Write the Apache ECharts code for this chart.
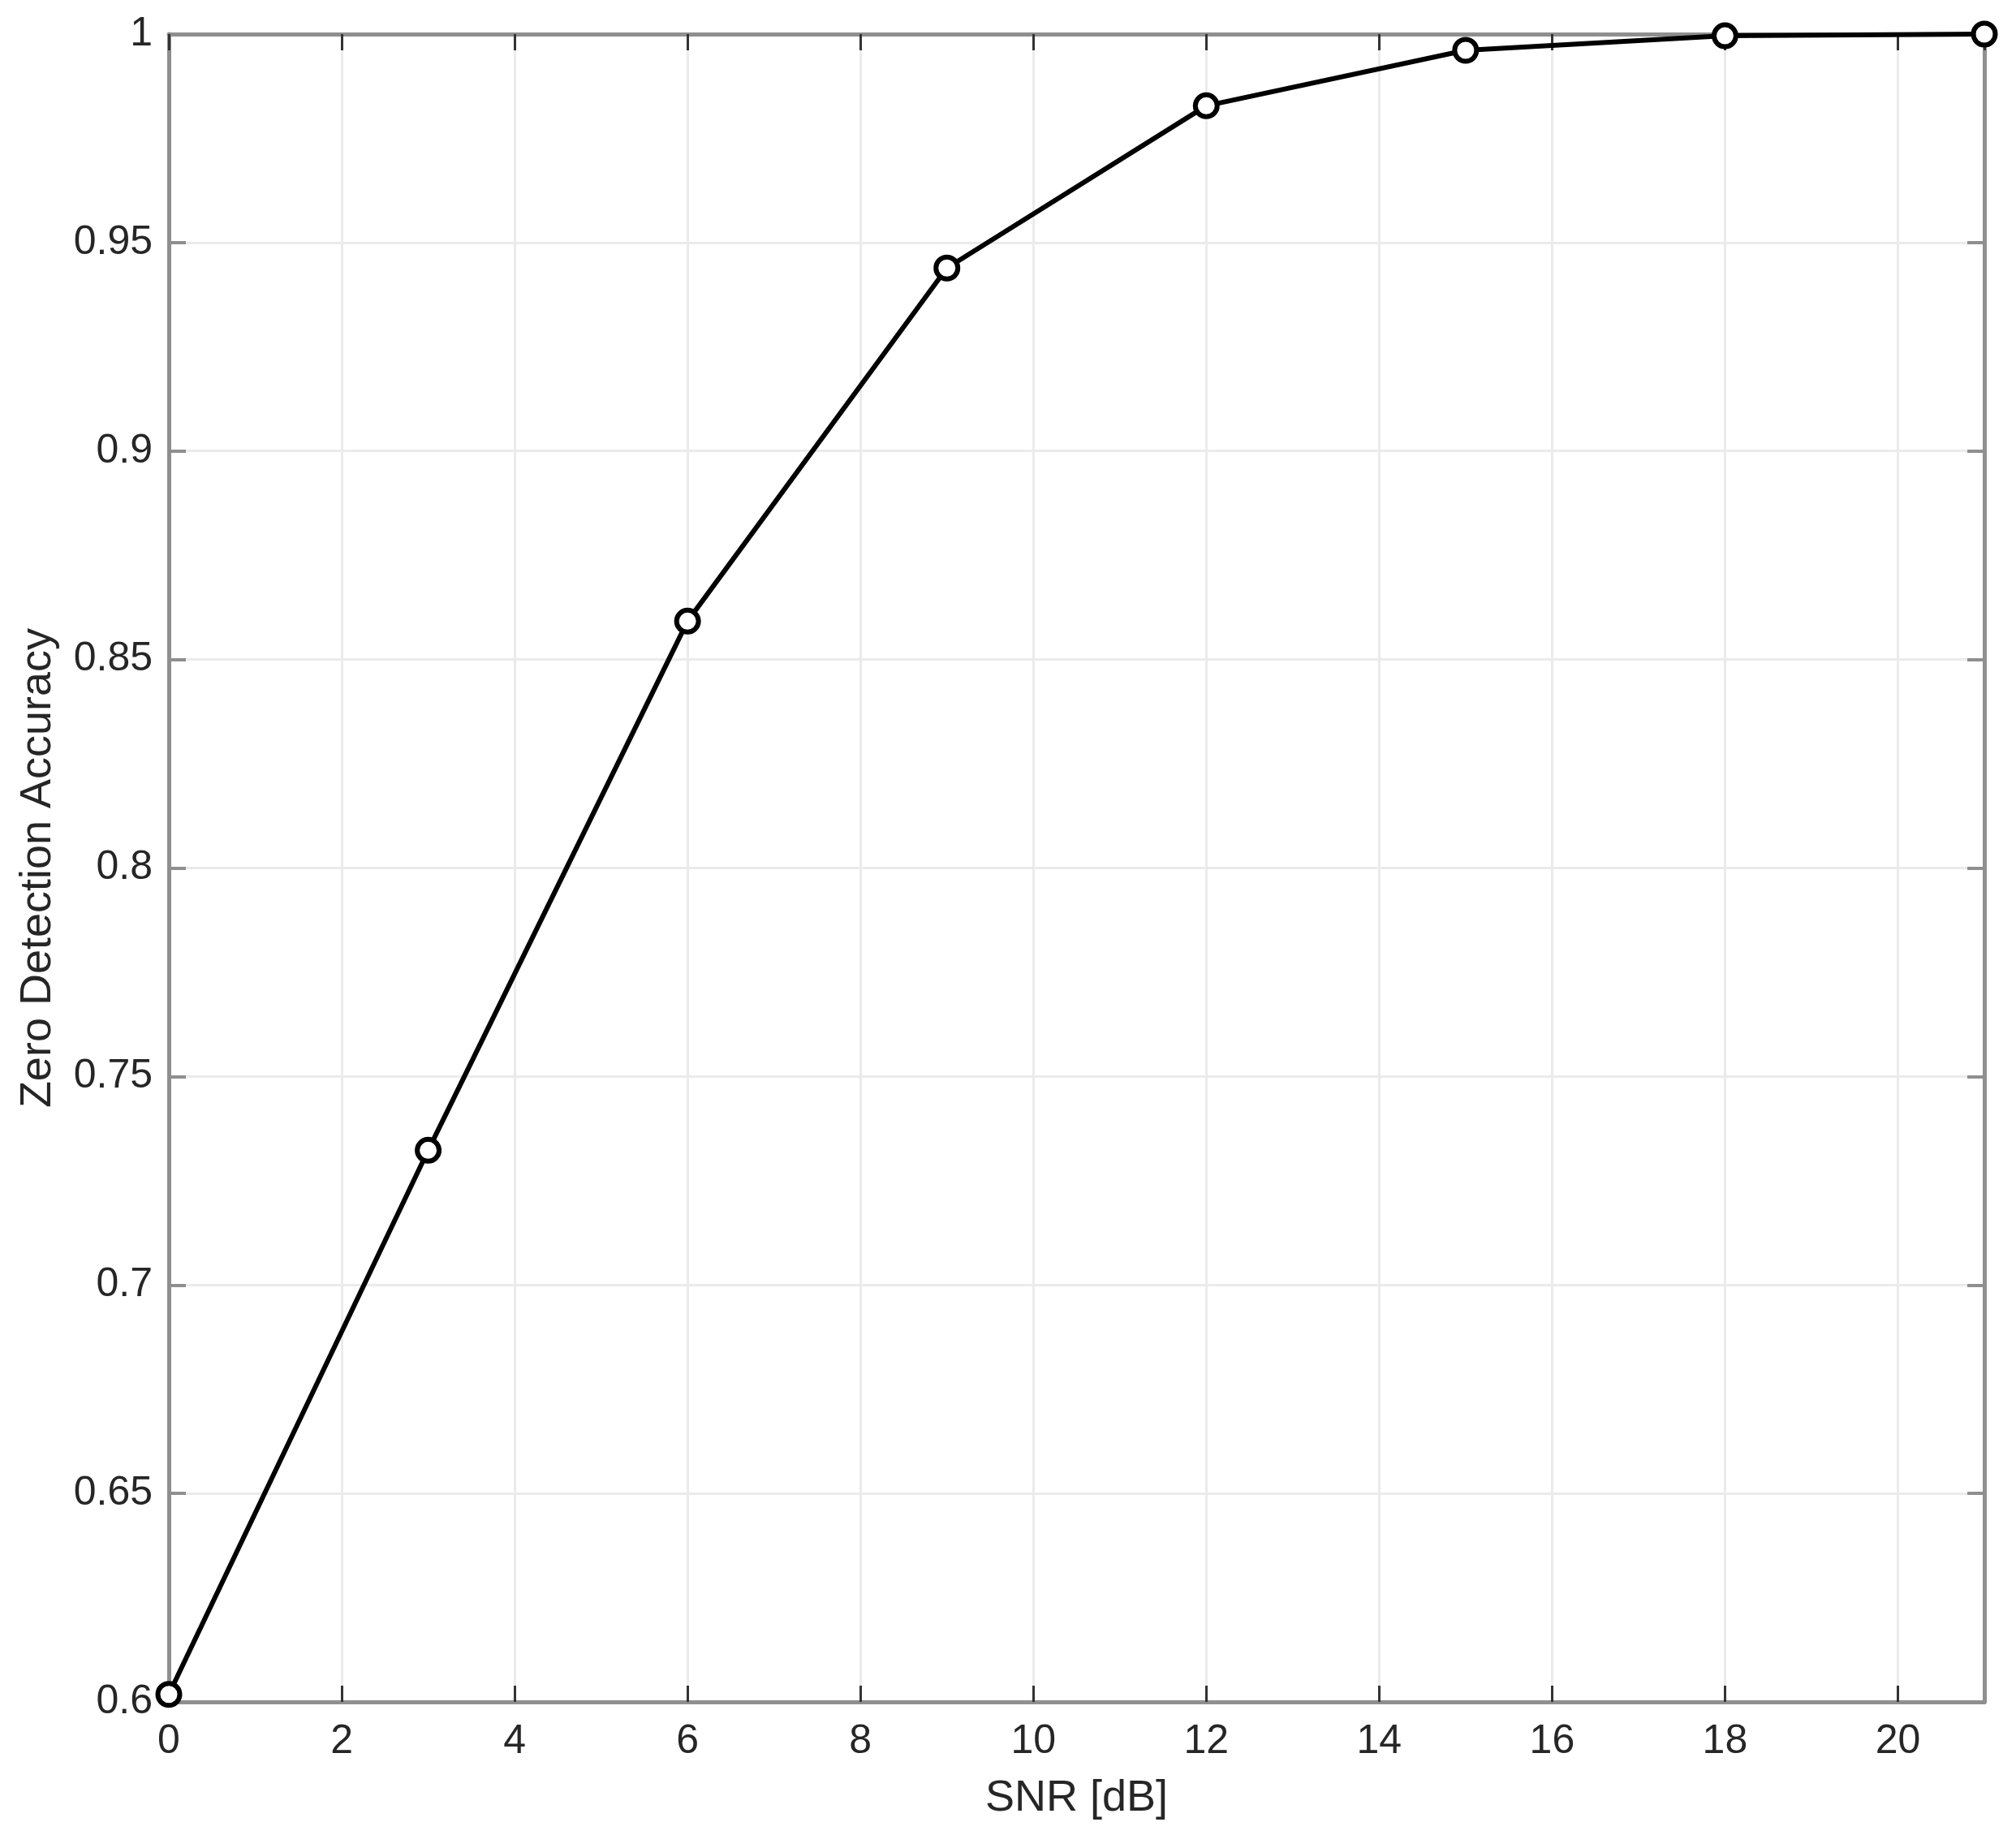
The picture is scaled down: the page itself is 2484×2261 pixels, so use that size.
<!DOCTYPE html>
<html>
<head>
<meta charset="utf-8">
<script src="https://cdn.jsdelivr.net/npm/echarts@6/dist/echarts.min.js"></script>
<style>
  html, body { margin: 0; padding: 0; background: #fff; }
  #chart { width: 2484px; height: 2261px; }
</style>
</head>
<body>
<div id="chart"></div>
<script>
const snrValues = [0, 3, 6, 9, 12, 15, 18, 21];
const accuracyValues = [0.6018, 0.7323, 0.8592, 0.9439, 0.9828, 0.9961, 0.9996, 1.0];

const axisGray = '#8f8f8f';
const gridGray = '#ebebeb';
const textDark = '#262626';
const fontFamily = 'Liberation Sans, Arial, sans-serif';

const chart = echarts.init(document.getElementById('chart'));

const points = snrValues.map((x, i) => [x, accuracyValues[i]]);

const option = {
  backgroundColor: '#ffffff',
  animation: false,
  grid: { left: 208, right: 39, top: 42, bottom: 164, containLabel: false },
  xAxis: [
    {
      type: 'value', min: 0, max: 21, interval: 2,
      name: 'SNR [dB]', nameLocation: 'middle', nameGap: 92,
      nameTextStyle: { fontSize: 54, color: textDark, fontFamily: fontFamily },
      axisLine: { onZero: false, lineStyle: { color: axisGray, width: 5 } },
      axisTick: { inside: true, length: 20, lineStyle: { color: '#333333', width: 3 } },
      axisLabel: { fontSize: 50, color: textDark, fontFamily: fontFamily, margin: 24, showMaxLabel: false },
      splitLine: { show: true, lineStyle: { color: gridGray, width: 3 } }
    },
    {
      type: 'value', min: 0, max: 21, interval: 2, position: 'top',
      axisLine: { onZero: false, lineStyle: { color: axisGray, width: 5 } },
      axisTick: { inside: true, length: 20, lineStyle: { color: '#333333', width: 3 } },
      axisLabel: { show: false },
      splitLine: { show: false }
    }
  ],
  yAxis: [
    {
      type: 'value', min: 0.6, max: 1, interval: 0.05,
      name: 'Zero Detection Accuracy', nameLocation: 'middle', nameGap: 134,
      nameTextStyle: { fontSize: 54, color: textDark, fontFamily: fontFamily },
      axisLine: { onZero: false, lineStyle: { color: axisGray, width: 5 } },
      axisTick: { inside: true, length: 21, lineStyle: { color: axisGray, width: 4 } },
      axisLabel: { fontSize: 50, color: textDark, fontFamily: fontFamily, margin: 20 },
      splitLine: { show: true, lineStyle: { color: gridGray, width: 3 } }
    },
    {
      type: 'value', min: 0.6, max: 1, interval: 0.05, position: 'right',
      axisLine: { onZero: false, lineStyle: { color: axisGray, width: 5 } },
      axisTick: { inside: true, length: 21, lineStyle: { color: axisGray, width: 4 } },
      axisLabel: { show: false },
      splitLine: { show: false }
    }
  ],
  series: [
    {
      type: 'line',
      data: points,
      clip: false,
      symbol: 'circle',
      symbolSize: 27,
      lineStyle: { color: '#000000', width: 6 },
      itemStyle: { color: '#ffffff', borderColor: '#000000', borderWidth: 6 },
      z: 10
    }
  ]
};

chart.setOption(option);
</script>
</body>
</html>
